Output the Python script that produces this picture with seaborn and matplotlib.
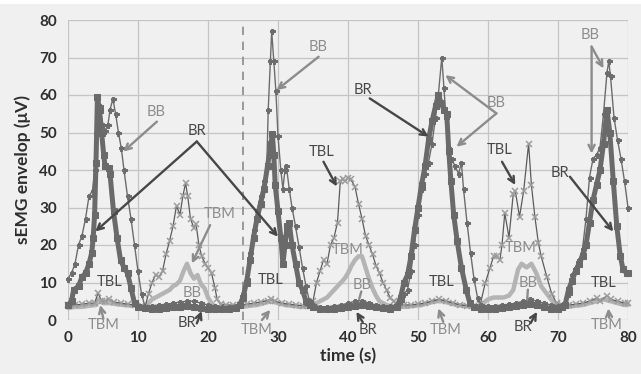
import matplotlib
matplotlib.use("Agg")
import matplotlib.pyplot as plt
import seaborn as sns
from matplotlib.patches import Rectangle

# ---------------- data ----------------
t_bb = [0, 0.5, 1, 1.5, 2, 2.5, 3, 3.5, 3.8, 4.0, 4.2, 4.5, 5, 5.3, 5.7, 6, 6.4, 6.8, 7.2, 7.6, 8, 8.5, 9, 9.5, 10, 10.5, 11,
        11.5, 12, 13, 14, 15, 16, 17, 18, 19, 20, 21, 22, 23, 24, 24.5,
        25, 25.5, 26, 26.5, 27, 27.5, 28, 28.4, 28.6, 28.9, 29.1, 29.4, 29.7, 30, 30.4, 30.7, 31, 31.2, 31.6, 32, 32.5, 33, 33.5, 34, 34.5, 35,
        36, 37, 38, 39, 40, 41, 42, 43, 44, 45, 46, 47,
        47.5, 48, 48.5, 49, 49.5, 50, 50.5, 51, 51.5, 52, 52.5, 52.9, 53.4, 53.7, 54, 54.3, 54.8, 55.3, 55.8, 56.2, 56.5, 57, 57.5, 58, 58.5, 59,
        60, 61, 62, 63, 64, 65, 66, 67, 68, 69, 70,
        70.5, 71, 71.5, 72, 72.5, 73, 73.5, 74, 74.5, 75, 75.5, 76, 76.5, 77, 77.25, 77.5, 78, 78.5, 79, 79.5, 80]
bb = [11, 12.5, 15, 20, 22.5, 27, 33, 34.5, 40, 50, 59, 57, 52, 50.5, 52, 56, 59, 55, 50, 46, 40, 33, 27, 20, 13, 7, 3.5,
      3.5, 3.8, 4, 4.2, 4.5, 4.8, 5, 5, 4.5, 4, 3.8, 3.5, 3.6, 3.8, 4,
      7, 11, 18, 24, 29, 33, 37, 41, 56, 69, 77, 69, 61, 49, 40, 35, 40, 41, 35, 30, 25, 19.5, 14, 9, 5, 4,
      3.5, 3.5, 3.8, 4, 4.5, 5, 5.2, 4.5, 4, 3.8, 3.8, 4,
      5, 7, 8, 13, 20, 28, 35, 39, 42, 47, 54, 60, 70, 62, 54, 46, 43, 41, 39, 42, 35, 26, 18, 11, 6, 4,
      3.8, 3.8, 4, 4.2, 4.5, 5, 5.5, 5, 4.5, 4, 3.8,
      4, 4.5, 7, 12, 14, 16, 19, 27, 38, 43, 44, 46, 55, 66, 69, 65, 54, 48, 43, 37, 30]

t_br = [0, 0.5, 0.8, 1.5, 2, 2.5, 3, 3.4, 3.6, 3.8, 4.0, 4.2, 4.5, 4.8, 5.1, 5.3, 5.8, 6, 6.5, 7, 7.5, 8, 8.5, 9, 9.5, 10,
        11, 12, 13, 14, 15, 16, 17, 18, 19, 20, 21, 22, 23, 24, 24.5,
        25, 25.5, 26, 26.5, 27, 27.5, 28, 28.5, 29, 29.2, 29.4, 29.6, 30, 30.4, 30.7, 31, 31.3, 31.6, 32, 32.5, 33, 33.5, 34, 34.5, 35,
        36, 37, 38, 39, 40, 41, 42, 43, 44, 45, 46, 47,
        47.5, 48, 48.5, 49, 49.5, 50, 50.5, 51, 51.5, 52, 52.5, 52.9, 53.3, 53.7, 54.1, 54.4, 54.7, 55.1, 55.6, 56.2, 56.9, 57.4, 58,
        59, 60, 61, 62, 63, 64, 65, 66, 67, 68, 69, 70,
        70.5, 71, 71.5, 72, 72.5, 73, 73.5, 74, 74.5, 75, 75.5, 76, 76.5, 77, 77.4, 77.9, 78.4, 78.9, 79.3, 79.8, 80]
br = [4, 5, 8, 9, 11.5, 12.5, 15, 18, 22, 28, 42, 59.5, 56, 50, 44, 41, 40.5, 39, 29, 22, 16, 14, 12.5, 8.5, 4.5, 3.5,
      3.2, 3, 3, 3.2, 3.5, 3.5, 3.8, 3.5, 3.2, 3, 3, 3, 3, 3.2, 4,
      6, 10, 16, 22, 27, 31, 35, 41, 47, 49.5, 44, 36, 29, 22, 15, 20, 25, 26, 20, 15, 10, 8, 5, 4, 3.5,
      3, 3, 3, 3.2, 3.5, 3.8, 4, 3.8, 3.5, 3.2, 3, 3.5,
      6, 10, 12, 17, 24, 30, 36, 41, 48, 53, 57, 60, 58, 56, 55, 45, 37, 28, 21, 14, 8, 4.5, 3.5,
      3, 3, 3, 3.2, 3.5, 3.8, 4, 4.2, 4, 3.5, 3, 3,
      3.5, 4, 8, 10.5, 13, 15, 17, 20, 26, 32, 36, 40, 47, 56, 50, 37, 25, 17, 13.5, 12.5, 12.5]

t_tbl = [0, 1, 2, 3, 3.8, 4.3, 4.8, 5.3, 5.8, 6.5, 7.5, 8.5, 9.5, 10.5, 11,
         11.5, 12, 12.5, 13, 13.5, 14, 14.5, 15, 15.5, 16, 16.4, 16.8, 17.1, 17.5, 18, 18.3, 18.7, 19.1, 19.6, 20, 20.5, 21, 21.3, 21.8, 22.5,
         23.5, 24.5, 25.5, 26.5, 27.5, 28.5, 29, 29.5, 30.5, 31.5, 32.5, 33.5, 34.5,
         35, 35.5, 36, 36.5, 37, 37.5, 38, 38.5, 38.9, 39.3, 39.6, 40, 40.4, 41, 41.5, 42, 42.5, 43, 43.5, 44, 44.5, 45, 45.5, 46, 46.5, 47,
         48, 49, 50, 51, 52, 53, 54, 55, 56, 57, 58, 58.9,
         59.6, 60.3, 60.8, 61.3, 61.7, 62, 62.4, 63, 63.6, 63.9, 64.5, 65.1, 65.8, 66.2, 66.7, 67.2, 67.6, 68.4, 69.1, 69.8,
         70.5, 71.5, 72.5, 73.5, 74.5, 75.5, 76, 77, 77.5, 78.5, 79.5, 80]
tbl = [4, 4, 4.2, 4.5, 4.5, 7.2, 5, 5, 5.5, 4.8, 4.5, 4.2, 4, 3.8, 3.5,
       7, 10, 12, 11.5, 13, 17.5, 21, 25, 30.5, 28, 33, 36.5, 33, 27, 24.5, 25.5, 20, 17, 15, 14, 12.5, 8.5, 5.5, 4.2, 4,
       4, 4, 4.2, 4.5, 4.8, 5.2, 5.5, 5, 4.5, 4.2, 4, 3.8, 3.8,
       5, 10, 13, 16, 15, 20, 22, 26, 37, 37.5, 37, 38, 37.5, 35.5, 31, 27, 22.5, 20, 17.5, 14.5, 12.5, 10, 8, 6, 5, 4,
       4, 4, 4.2, 4.5, 5, 5.5, 5, 4.5, 4, 3.8, 3.8, 4.2,
       9.8, 14, 17, 17, 16, 20, 28.5, 22, 33.5, 34.5, 27.5, 34.5, 47, 36, 27.5, 20.5, 17, 11.5, 7, 4.5,
       4, 4, 4.2, 4.5, 5, 5.8, 5, 6.5, 5.5, 5, 4.5, 4.5]

t_tbm = [0, 1, 2, 3, 4, 4.3, 5, 6, 7, 8, 9, 10, 11,
         11.5, 12, 12.5, 13, 13.5, 14, 14.5, 15, 15.5, 16, 16.5, 17, 17.5, 18, 18.5, 19, 19.5, 20, 20.5, 21,
         22, 23, 24, 25, 26, 27, 28, 29, 30, 31, 32, 33, 34, 35,
         35.5, 36, 36.5, 37, 37.5, 38, 38.5, 39, 39.5, 40, 40.5, 41, 41.5, 42, 42.5, 43, 43.5, 44, 44.5, 45, 45.5,
         46.5, 47.5, 48.5, 49.5, 50.5, 51.5, 52.5, 53.5, 54.5, 55.5, 56.5, 57.5, 58.5,
         59.3, 60, 60.8, 61.5, 62.2, 63, 63.6, 64.3, 64.8, 65.5, 66.2, 66.9, 67.6, 68.4, 69.1, 69.8,
         70.5, 71.5, 72.5, 73.5, 74.5, 75.5, 76.5, 77.5, 78.5, 79.5, 80]
tbm = [3.2, 3.5, 3.5, 3.8, 4, 5.5, 4.5, 4.5, 4.2, 4, 3.8, 3.8, 3.5,
       4.5, 5.5, 6, 6.5, 7, 7.5, 8, 9, 9.5, 10.5, 13, 15, 12.5, 11, 12, 9.5, 8.5, 6, 4.5, 3.5,
       3.2, 3.2, 3.5, 3.5, 3.8, 4, 4.5, 5, 4.5, 4, 3.8, 3.5, 3.5, 3.5,
       4.5, 5, 5.5, 6, 7, 8, 9, 10, 11, 12.5, 14.5, 16, 17, 17, 14, 11, 8.5, 6.5, 5, 4.5, 4,
       3.5, 3.5, 3.5, 3.8, 4, 4.5, 5, 5, 4.5, 4, 3.8, 3.5, 3.5,
       4.5, 5.5, 6, 6, 6, 6.5, 8, 13.5, 15, 14, 15, 12.5, 9, 7, 5.3, 4,
       3.5, 3.5, 3.8, 4, 4.5, 5, 5.5, 5, 4.5, 4, 4]

x_ticks = [0, 10, 20, 30, 40, 50, 60, 70, 80]
y_ticks = [0, 10, 20, 30, 40, 50, 60, 70, 80]
marker_time = 25

# annotation labels: (text, x, y, tone)
labels = [
    ("BB", 12.6, 55.5, "light"), ("BR", 18.4, 50.3, "dark"), ("TBL", 6.0, 10.2, "dark"),
    ("TBM", 5.05, -1.4, "light"), ("TBM", 21.6, 28.4, "light"), ("BB", 17.7, 7.1, "light"),
    ("BR", 17.0, -0.7, "dark"), ("BB", 35.8, 72.9, "light"), ("BR", 42.2, 61.3, "dark"),
    ("TBL", 36.2, 44.9, "dark"), ("TBL", 28.9, 10.7, "dark"), ("TBM", 27.0, -2.7, "light"),
    ("TBM", 40.0, 18.7, "light"), ("BB", 42.0, 9.3, "light"), ("BR", 42.9, -2.7, "dark"),
    ("BB", 61.2, 57.8, "light"), ("TBL", 61.7, 45.3, "dark"), ("BR", 70.3, 39.1, "dark"),
    ("BB", 74.6, 76.0, "light"), ("TBM", 64.6, 19.1, "light"), ("BB", 65.8, 9.8, "light"),
    ("BR", 65.0, -1.9, "dark"), ("TBL", 53.4, 10.2, "dark"), ("TBM", 53.9, -2.7, "light"),
    ("TBL", 76.5, 9.8, "dark"), ("TBM", 77.0, -1.4, "light"),
]
# arrows: (start_x, start_y, tip_x, tip_y, tone, head)
arrows = [
    (12.7, 52.9, 7.9, 44.9, "light", True),
    (18.4, 47.6, 3.9, 23.6, "dark", True), (18.4, 47.6, 30.0, 22.2, "dark", True),
    (5.05, 0.4, 4.6, 4.0, "light", True),
    (20.3, 25.3, 17.7, 15.1, "light", True),
    (18.4, -0.9, 19.1, 2.4, "dark", True),
    (35.8, 70.2, 29.8, 61.3, "light", True),
    (43.1, 59.1, 51.5, 48.9, "dark", True),
    (36.5, 42.2, 38.4, 35.6, "dark", True),
    (27.7, 0.0, 28.9, 2.7, "light", True),
    (41.9, 7.6, 41.6, 5.6, "light", False),
    (42.1, -0.6, 41.2, 2.2, "dark", True),
    (61.2, 55.1, 53.9, 65.3, "light", True), (61.2, 55.1, 55.5, 46.2, "light", True),
    (62.0, 42.2, 63.9, 36.0, "dark", True),
    (71.7, 38.2, 77.9, 23.6, "dark", True),
    (74.8, 72.9, 76.5, 67.1, "light", True), (74.8, 72.9, 74.8, 44.4, "light", True),
    (65.7, 8.1, 65.6, 5.6, "light", False),
    (66.1, -0.8, 67.0, 2.2, "dark", True),
    (53.6, -0.5, 52.9, 3.1, "light", True),
    (77.3, 0.6, 77.2, 3.1, "light", True),
]

# ---------------- figure ----------------
sns.set_theme(style="white")
plt.rcParams['font.family'] = ['Lato', 'DejaVu Sans']

bg = '#f0f0f0'
fig = plt.figure(figsize=(6.41, 3.74), dpi=100, facecolor=bg)
fig.patches.append(Rectangle((0, 1 - 4 / 374), 1, 4 / 374, transform=fig.transFigure,
                             facecolor='white', edgecolor='none', zorder=0))
ax = fig.add_axes([68 / 641, 54 / 374, 560 / 641, 300 / 374])
ax.set_facecolor(bg)

ax.set_xlim(0, 80)
ax.set_ylim(0, 80)
ax.set_xticks(x_ticks)
ax.set_yticks(y_ticks)
ax.grid(True, color='#c4c4c4', lw=0.9, zorder=0)
ax.set_axisbelow(True)
for s in ax.spines.values():
    s.set_visible(False)
ax.tick_params(axis='both', length=5, width=0.9, color='#c4c4c4', labelsize=11,
               labelcolor='#2e2e2e', pad=3, direction='out')
for lbl in ax.get_xticklabels() + ax.get_yticklabels():
    lbl.set_fontweight('bold')

ax.axvline(marker_time, color='#8a8a8a', lw=1.2, ls=(0, (5, 4)), zorder=1)

sns.lineplot(x=t_tbm, y=tbm, ax=ax, color='#b4b4b4', lw=3.2, estimator=None, sort=False,
             zorder=3, clip_on=False)
sns.lineplot(x=t_tbl, y=tbl, ax=ax, color='#5c5c5c', lw=0.9, estimator=None, sort=False,
             marker='x', markersize=3.8, markeredgecolor='#9c9c9c', markeredgewidth=1.1,
             zorder=4, clip_on=False)
sns.lineplot(x=t_bb, y=bb, ax=ax, color='#6c6c6c', lw=1.0, estimator=None, sort=False,
             marker='P', markersize=3.6, markeredgecolor='#6c6c6c', markerfacecolor='#6c6c6c',
             zorder=5, clip_on=False)
sns.lineplot(x=t_br, y=br, ax=ax, color='#6a6a6a', lw=3.6, estimator=None, sort=False,
             marker='s', markersize=4.2, markeredgecolor='#6a6a6a', markerfacecolor='#6a6a6a',
             zorder=6, clip_on=False)

tone_col = {"dark": "#474747", "light": "#8c8c8c"}
for txt, x, y, tone in labels:
    ax.text(x, y, txt, ha='center', va='center', fontsize=10.5, color=tone_col[tone],
            zorder=8, clip_on=False)
for sx, sy, tx, ty, tone, head in arrows:
    ax.annotate('', xy=(tx, ty), xytext=(sx, sy), annotation_clip=False,
                arrowprops=dict(arrowstyle='->' if head else '-', color=tone_col[tone], lw=1.7,
                                mutation_scale=11, shrinkA=0, shrinkB=0), zorder=9)

ax.set_xlabel('time (s)', fontsize=12.5, fontweight='bold', color='#2e2e2e', labelpad=2)
ax.set_ylabel('sEMG envelop (μV)', fontsize=12.5, fontweight='bold', color='#2e2e2e', labelpad=6)

fig.savefig('out.png', dpi=100, facecolor=bg)
